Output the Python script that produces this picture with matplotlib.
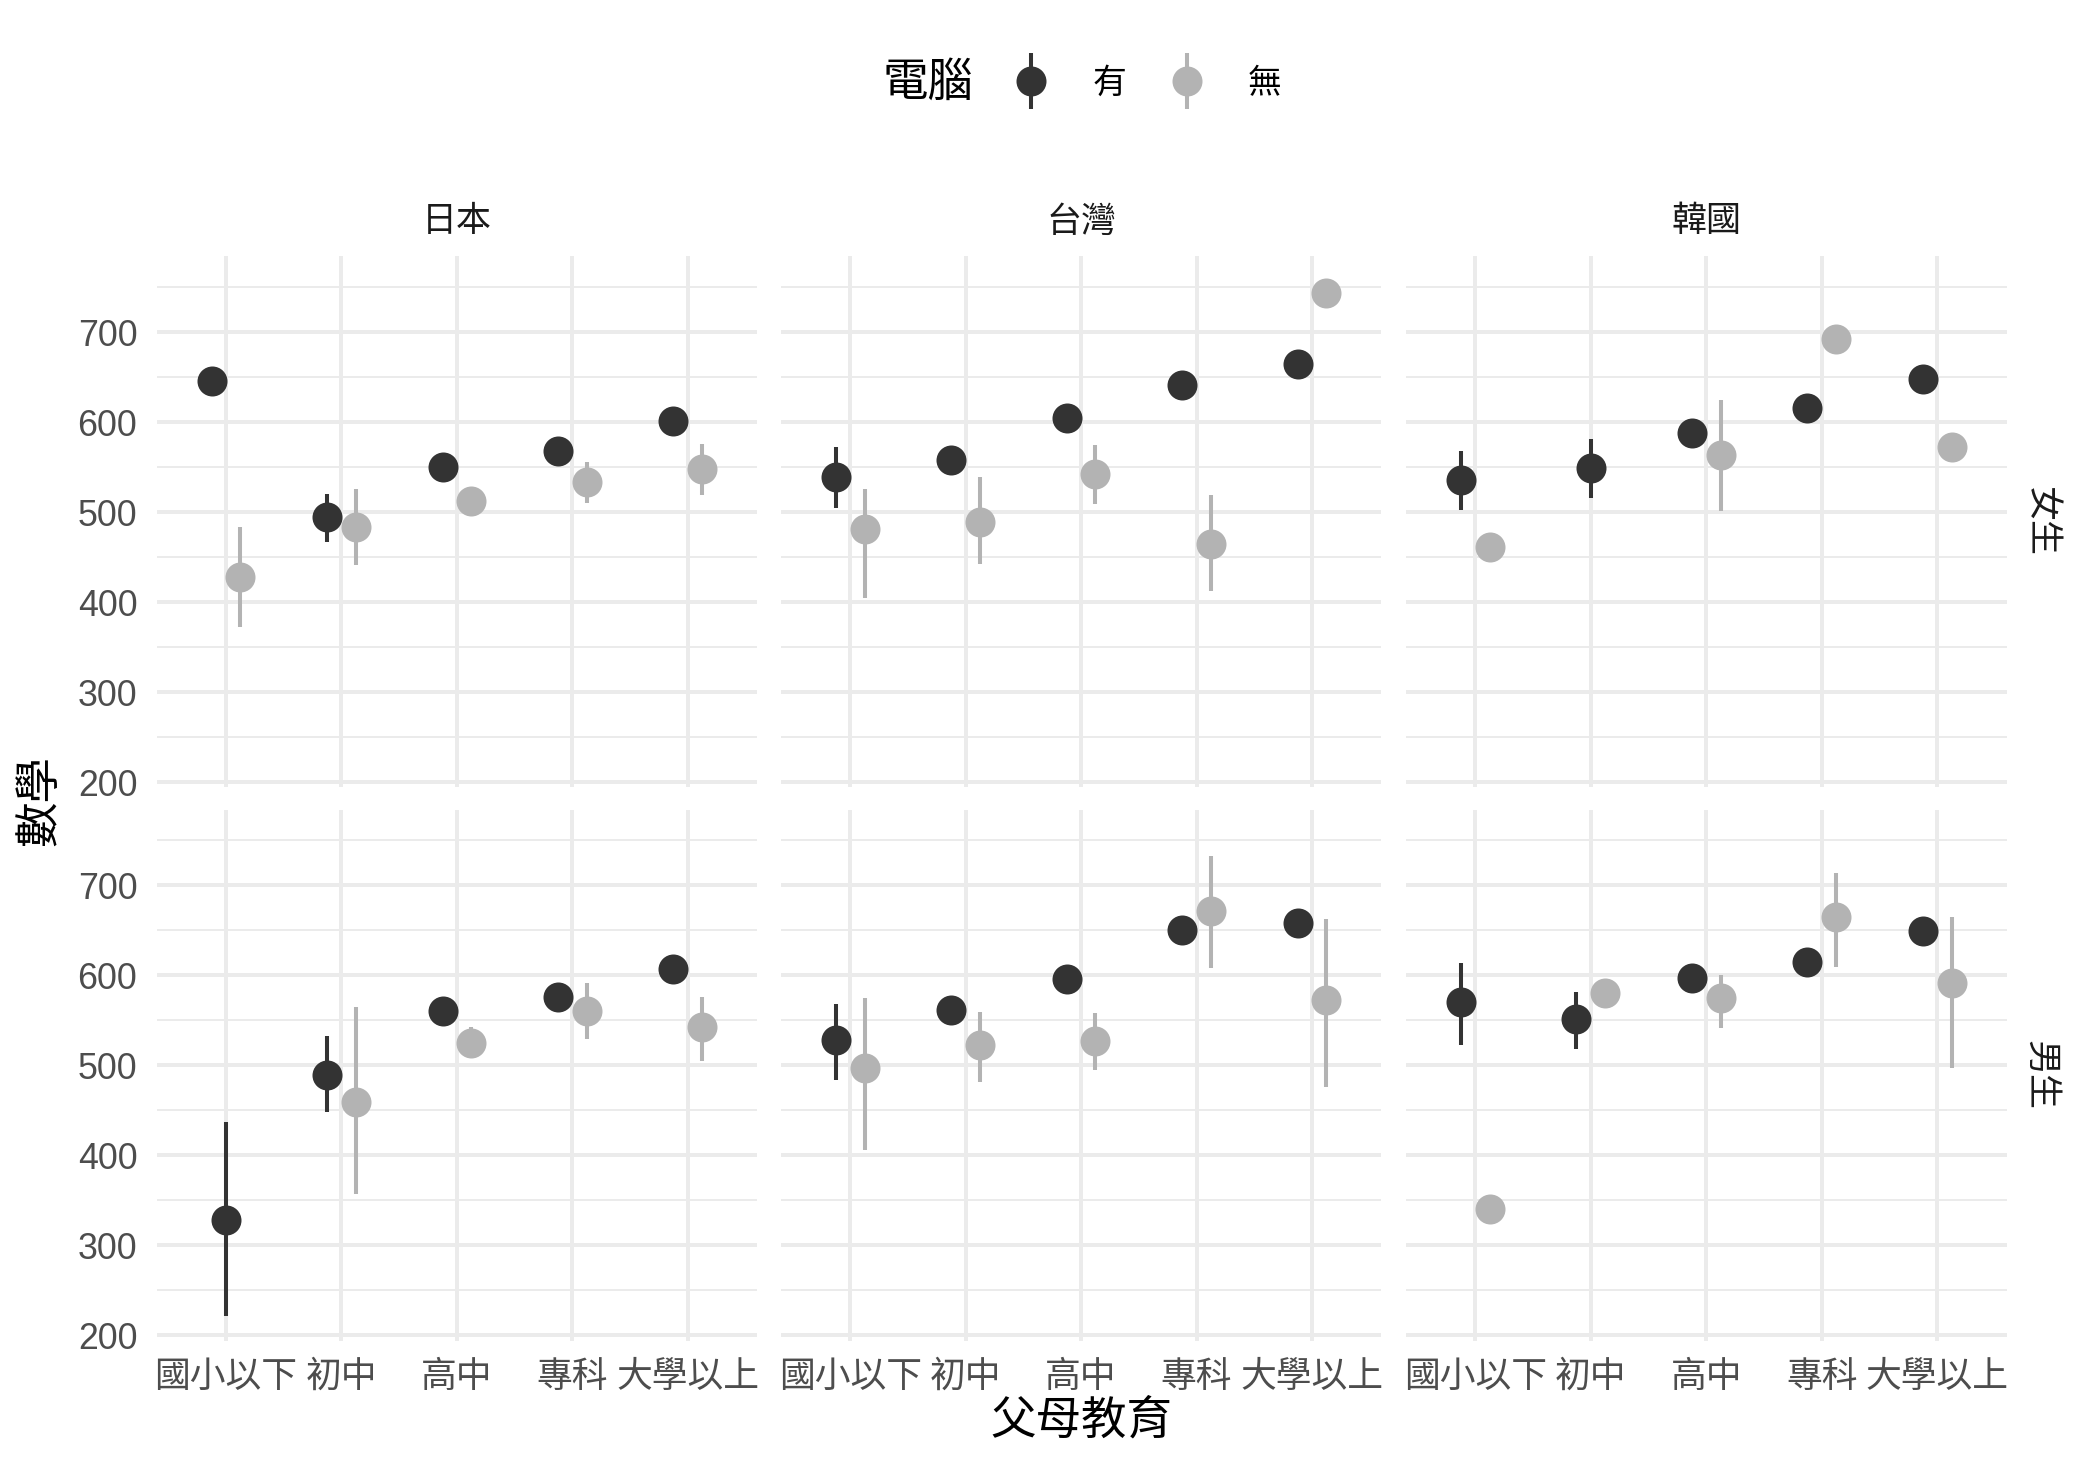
import numpy as np
import matplotlib
matplotlib.use('Agg')
import matplotlib.pyplot as plt
from matplotlib.lines import Line2D
from matplotlib.legend_handler import HandlerTuple

plt.rcParams['font.family'] = ['Liberation Sans', 'Noto Sans CJK TC']

nan = np.nan
countries = ['日本', '台灣', '韓國']
genders = ['女生', '男生']
edu = ['國小以下', '初中', '高中', '專科', '大學以上']
computer = ['有', '無']

# ---- 女生 ----
jp_f_yes = [645, 494, 550, 568, 601]
jp_f_yes_lo = [nan, 467, nan, nan, nan]
jp_f_yes_hi = [nan, 520, nan, nan, nan]
jp_f_no = [428, 483, 512, 533, 548]
jp_f_no_lo = [372, 441, nan, 510, 519]
jp_f_no_hi = [483, 525, nan, 555, 576]

tw_f_yes = [539, 558, 604, 641, 664]
tw_f_yes_lo = [504, nan, nan, nan, nan]
tw_f_yes_hi = [572, nan, nan, nan, nan]
tw_f_no = [481, 489, 542, 465, 743]
tw_f_no_lo = [405, 442, 509, 412, nan]
tw_f_no_hi = [525, 539, 574, 519, nan]

kr_f_yes = [536, 549, 588, 615, 648]
kr_f_yes_lo = [502, 516, nan, nan, nan]
kr_f_yes_hi = [568, 581, nan, nan, nan]
kr_f_no = [461, nan, 563, 692, 572]
kr_f_no_lo = [nan, nan, 501, nan, nan]
kr_f_no_hi = [nan, nan, 624, nan, nan]

# ---- 男生 ----
jp_m_yes = [328, 489, 560, 576, 607]
jp_m_yes_lo = [221, 448, nan, nan, nan]
jp_m_yes_hi = [437, 532, nan, nan, nan]
jp_m_no = [nan, 459, 525, 560, 542]
jp_m_no_lo = [nan, 357, 508, 529, 505]
jp_m_no_hi = [nan, 565, 542, 591, 576]

tw_m_yes = [528, 561, 596, 650, 658]
tw_m_yes_lo = [484, nan, nan, nan, nan]
tw_m_yes_hi = [568, nan, nan, nan, nan]
tw_m_no = [497, 522, 527, 671, 572]
tw_m_no_lo = [406, 481, 495, 608, 476]
tw_m_no_hi = [574, 559, 558, 732, 662]

kr_m_yes = [570, 551, 597, 615, 649]
kr_m_yes_lo = [522, 518, nan, nan, nan]
kr_m_yes_hi = [613, 581, nan, nan, nan]
kr_m_no = [340, 580, 574, 664, 591]
kr_m_no_lo = [nan, nan, 541, 609, 497]
kr_m_no_hi = [nan, nan, 600, 713, 665]

data = {
    ('日本', '女生'): [(jp_f_yes, jp_f_yes_lo, jp_f_yes_hi), (jp_f_no, jp_f_no_lo, jp_f_no_hi)],
    ('台灣', '女生'): [(tw_f_yes, tw_f_yes_lo, tw_f_yes_hi), (tw_f_no, tw_f_no_lo, tw_f_no_hi)],
    ('韓國', '女生'): [(kr_f_yes, kr_f_yes_lo, kr_f_yes_hi), (kr_f_no, kr_f_no_lo, kr_f_no_hi)],
    ('日本', '男生'): [(jp_m_yes, jp_m_yes_lo, jp_m_yes_hi), (jp_m_no, jp_m_no_lo, jp_m_no_hi)],
    ('台灣', '男生'): [(tw_m_yes, tw_m_yes_lo, tw_m_yes_hi), (tw_m_no, tw_m_no_lo, tw_m_no_hi)],
    ('韓國', '男生'): [(kr_m_yes, kr_m_yes_lo, kr_m_yes_hi), (kr_m_no, kr_m_no_lo, kr_m_no_hi)],
}

colors = ['#333333', '#B3B3B3']
grid_c = '#EBEBEB'

W, H = 2100, 1469
fig = plt.figure(figsize=(W / 200, H / 200), dpi=200)
lefts = [156.7, 780.8, 1406.0]
pw = 600.5
rows = [(256.4, 787.4), (809.5, 1340.5)]

x = np.arange(1, len(edu) + 1)
for r, g in enumerate(genders):
    top, bot = rows[r]
    for c, ctry in enumerate(countries):
        ax = fig.add_axes([lefts[c] / W, 1 - bot / H, pw / W, (bot - top) / H])
        ax.set_xlim(0.4, 5.6)
        ax.set_ylim(194, 784)
        ax.set_xticks(x)
        ax.set_yticks(np.arange(200, 701, 100))
        ax.set_yticks(np.arange(250, 751, 100), minor=True)
        ax.grid(which='major', color=grid_c, lw=1.42)
        ax.grid(which='minor', axis='y', color=grid_c, lw=0.71)
        ax.set_axisbelow(True)
        for s in ax.spines.values():
            s.set_visible(False)
        ax.tick_params(which='both', length=0, labelsize=12.9, labelcolor='#4D4D4D')
        ax.tick_params(axis='y', pad=7)
        ax.tick_params(axis='x', pad=7)
        if c == 0:
            ax.set_yticklabels([str(v) for v in range(200, 701, 100)])
        else:
            ax.set_yticklabels([])
        if r == 1:
            ax.set_xticklabels(edu)
        else:
            ax.set_xticklabels([])

        groups = data[(ctry, g)]
        means = [np.array(gr[0], dtype=float) for gr in groups]
        for k, (m, lo, hi) in enumerate(groups):
            m = np.array(m, dtype=float)
            lo = np.array(lo, dtype=float)
            hi = np.array(hi, dtype=float)
            other = means[1 - k]
            off = np.where(np.isnan(other), 0.0, -0.125 if k == 0 else 0.125)
            xx = x + off
            ok = ~np.isnan(lo) & ~np.isnan(m)
            ax.vlines(xx[ok], lo[ok], hi[ok], color=colors[k], lw=1.45, zorder=3)
            ax.plot(xx, m, 'o', ms=10.8, color=colors[k], mec='none', ls='none', zorder=4)

# strip labels
for c, ctry in enumerate(countries):
    fig.text((lefts[c] + pw / 2) / W, 1 - 222 / H, ctry, ha='center', va='center',
             fontsize=12.6, color='#1A1A1A')
for r, g in enumerate(genders):
    top, bot = rows[r]
    fig.text(2040 / W, 1 - (top + bot) / 2 / H, g, ha='center', va='center',
             rotation=270, fontsize=12.6, color='#1A1A1A')

# axis titles
fig.text(40 / W, 1 - 800 / H, '數學', rotation=90, ha='center', va='center', fontsize=16.4)
fig.text((lefts[0] + lefts[2] + pw) / 2 / W, 1 - 1422 / H, '父母教育', ha='center',
         va='center', fontsize=16.4)

# legend
handles = []
for k in range(2):
    bar = Line2D([], [], marker='|', ms=20.5, mew=1.45, color=colors[k], ls='none')
    dot = Line2D([], [], marker='o', ms=10.8, color=colors[k], mec='none', ls='none')
    handles.append((bar, dot))
fig.text(928 / W, 1 - 84 / H, '電腦', ha='center', va='center', fontsize=16.4)
fig.legend(handles, computer, handler_map={tuple: HandlerTuple(ndivide=1)},
           ncol=2, loc='center', bbox_to_anchor=(1148 / W, 1 - 84 / H), frameon=False,
           fontsize=12.2, handlelength=1.0, handletextpad=1.3, columnspacing=1.3,
           borderpad=0)

fig.savefig('out.png', dpi=200, facecolor='white')
